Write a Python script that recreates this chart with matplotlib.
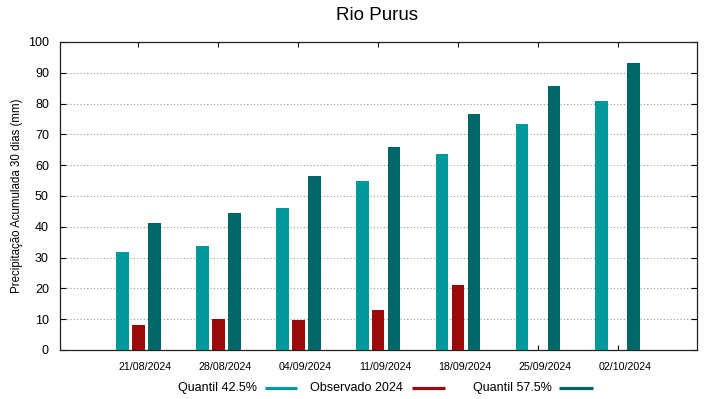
import numpy as np
import matplotlib.pyplot as plt
from matplotlib.lines import Line2D
import matplotlib.transforms as mtransforms

plt.rcParams['font.family'] = ['Liberation Sans', 'DejaVu Sans']

# data
datas = ["21/08/2024", "28/08/2024", "04/09/2024", "11/09/2024",
         "18/09/2024", "25/09/2024", "02/10/2024"]
q425 = [31.8, 33.9, 46.1, 54.8, 63.6, 73.3, 80.8]
obs2024 = [8.0, 10.1, 9.8, 13.1, 21.2, np.nan, np.nan]
q575 = [41.3, 44.6, 56.5, 65.9, 76.7, 85.8, 93.3]
nomes = ["Quantil 42.5%", "Observado 2024", "Quantil 57.5%"]

c_q425 = "#009999"
c_obs = "#990b0b"
c_q575 = "#006666"

W, H = 719, 399
fig = plt.figure(figsize=(W/100, H/100), dpi=100)
ax = fig.add_axes([60/W, 1-350/H, 637/W, 308/H])

x = np.arange(len(datas))
w = 0.16
ax.bar(x - 0.2, q425, w, color=c_q425, zorder=3)
ax.bar(x, obs2024, w, color=c_obs, zorder=3)
ax.bar(x + 0.2, q575, w, color=c_q575, zorder=3)

ax.set_xlim(-0.98, 6.99)
ax.set_ylim(0, 100)
ax.set_yticks(np.arange(0, 101, 10))
ax.set_xticks(x)
ax.set_xticklabels(datas, fontsize=7.7)
ax.tick_params(axis='y', direction='in', length=4, width=0.8, right=True,
               labelsize=9, pad=8)
ax.tick_params(axis='x', direction='in', length=3.5, width=0.8, top=True,
               pad=9)
off = mtransforms.ScaledTranslation(7/100, 0, fig.dpi_scale_trans)
for lab in ax.get_xticklabels():
    lab.set_transform(lab.get_transform() + off)

for yv in range(10, 100, 10):
    ax.axhline(yv, color="#999999", lw=0.8, ls=(0, (1, 2)), zorder=1)

for s in ax.spines.values():
    s.set_linewidth(0.9)
    s.set_color("#222222")

ax.set_ylabel("Precipitação Acumulada 30 dias (mm)", fontsize=8.3)
ax.yaxis.set_label_coords(-0.058, 0.5)

fig.text(0.524, 1-16/H, "Rio Purus", ha='center', va='center', fontsize=13.5)

# legenda estilo gnuplot: texto, depois amostra
ly = 1 - 388/H
txt_right = [257, 403, 552]
amostra = [(265, 297), (412, 445), (559, 593)]
for nome, c, tx, (a0, a1) in zip(nomes, (c_q425, c_obs, c_q575), txt_right, amostra):
    fig.text(tx/W, ly, nome, ha='right', va='center', fontsize=9)
    fig.add_artist(Line2D([a0/W, a1/W], [ly, ly], color=c, lw=2.3,
                          solid_capstyle='butt', transform=fig.transFigure))

fig.savefig("out.png", dpi=100)
